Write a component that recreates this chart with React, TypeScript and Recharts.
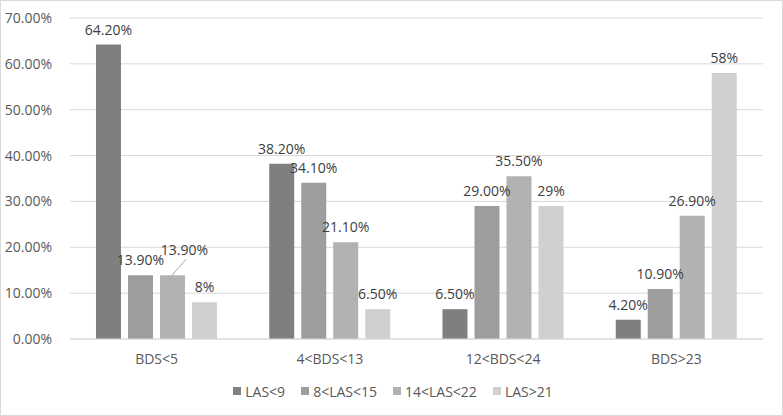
import React from 'react'
import { BarChart, Bar, XAxis, YAxis, CartesianGrid, Legend, LabelList } from 'recharts'

const categories = ['BDS<5', '4<BDS<13', '12<BDS<24', 'BDS>23']
const seriesNames = ['LAS<9', '8<LAS<15', '14<LAS<22', 'LAS>21']
const las9 = [64.2, 38.2, 6.5, 4.2]
const las8to15 = [13.9, 34.1, 29.0, 10.9]
const las14to22 = [13.9, 21.1, 35.5, 26.9]
const las21 = [8, 6.5, 29, 58]
const las9Labels = ['64.20%', '38.20%', '6.50%', '4.20%']
const las8to15Labels = ['13.90%', '34.10%', '29.00%', '10.90%']
const las14to22Labels = ['13.90%', '21.10%', '35.50%', '26.90%']
const las21Labels = ['8%', '6.50%', '29%', '58%']
const yTicks = [0, 10, 20, 30, 40, 50, 60, 70]

const colors = ['#7f7f7f', '#9d9d9d', '#b2b2b2', '#d0d0d0']
const FONT = '"Open Sans", sans-serif'

const seriesValues = [las9, las8to15, las14to22, las21]
const seriesLabels = [las9Labels, las8to15Labels, las14to22Labels, las21Labels]

const data = categories.map((c, i) => {
  const row: Record<string, string | number> = { name: c }
  seriesNames.forEach((s, k) => {
    row['s' + k] = seriesValues[k][i]
  })
  return row
})

function makeLabel(k: number) {
  return (props: any) => {
    const { x, y, width, index } = props
    const text = seriesLabels[k][index]
    const cx = x + width / 2
    // the one label Excel pushed aside with a leader line
    if (k === 2 && index === 0) {
      return (
        <g>
          <line x1={x + 12} y1={y} x2={x + 26} y2={y - 16} stroke="#a6a6a6" strokeWidth={1} />
          <text x={cx + 12} y={y - 20} textAnchor="middle" fontSize={14} fill="#404040" fontFamily={FONT}>
            {text}
          </text>
        </g>
      )
    }
    return (
      <text x={cx} y={y - 10} textAnchor="middle" fontSize={14} fill="#404040" fontFamily={FONT}>
        {text}
      </text>
    )
  }
}

function LegendContent() {
  return (
    <div style={{ height: 24, paddingLeft: 22, display: 'flex', justifyContent: 'center', alignItems: 'center', gap: 16, fontFamily: FONT, fontSize: 14, color: '#595959' }}>
      {seriesNames.map((s, k) => (
        <span key={s} style={{ display: 'flex', alignItems: 'center', gap: 4 }}>
          <span style={{ width: 8, height: 8, background: colors[k], display: 'inline-block' }} />
          {s}
        </span>
      ))}
    </div>
  )
}

export default function App(): JSX.Element {
  return (
    <div style={{ position: 'absolute', left: 0, top: 0, width: 783, height: 416, boxSizing: 'border-box', border: '1px solid #d9d9d9', background: '#fff' }}>
      <BarChart
        width={781}
        height={414}
        data={data}
        margin={{ top: 17, right: 19, left: 0, bottom: 12 }}
        barCategoryGap="15%"
        barGap={7}
      >
        <CartesianGrid vertical={false} stroke="#d9d9d9" />
        <XAxis
          dataKey="name"
          axisLine={{ stroke: '#d9d9d9' }}
          tickLine={false}
          height={40}
          tick={{ fontSize: 14, fill: '#595959', fontFamily: FONT }}
          tickMargin={9}
        />
        <YAxis
          domain={[0, 70]}
          ticks={yTicks}
          width={69}
          axisLine={false}
          tickLine={false}
          interval={0}
          tickFormatter={(v: number) => v.toFixed(2) + '%'}
          tick={{ fontSize: 14, fill: '#595959', fontFamily: FONT }}
          tickMargin={12}
        />
        <Legend verticalAlign="bottom" content={<LegendContent />} />
        {seriesNames.map((s, k) => (
          <Bar key={s} dataKey={'s' + k} name={s} fill={colors[k]} isAnimationActive={false}>
            <LabelList dataKey={'s' + k} content={makeLabel(k)} />
          </Bar>
        ))}
      </BarChart>
    </div>
  )
}
